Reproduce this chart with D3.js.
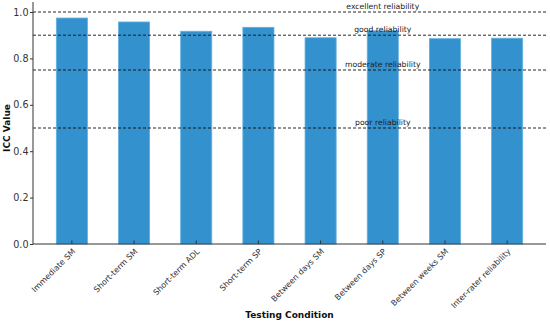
<!DOCTYPE html>
<html>
<head>
<meta charset="utf-8">
<script src="https://cdn.jsdelivr.net/npm/d3@7"></script>
<style>
  body { margin: 0; background: #fff; }
  text { font-family: "DejaVu Sans", sans-serif; }
</style>
</head>
<body>
<svg id="chart"></svg>
<script>
const categories = ["Immediate SM", "Short-term SM", "Short-term ADL", "Short-term SP",
  "Between days SM", "Between days SP", "Between weeks SM", "Inter-rater reliability"];
const iccValues = [0.974, 0.957, 0.917, 0.934, 0.889, 0.919, 0.885, 0.887];
const thresholds = [1.0, 0.9, 0.75, 0.5];
const thresholdLabels = ["excellent reliability", "good reliability", "moderate reliability", "poor reliability"];
const yTicks = [0, 0.2, 0.4, 0.6, 0.8, 1.0];

const W = 550, H = 323;
const margin = { top: 12, right: 4, bottom: 79, left: 33 };
const width = W - margin.left - margin.right;

const svg = d3.select("#chart")
    .attr("width", W)
    .attr("height", H);

const g = svg.append("g");

const x = d3.scaleBand()
    .domain(categories)
    .range([margin.left, W - margin.right])
    .paddingInner(0.5)
    .paddingOuter(0.375);

const y = d3.scaleLinear()
    .domain([0, 1])
    .range([244, 12]);

// bars
g.selectAll("rect.bar")
    .data(categories)
  .enter().append("rect")
    .attr("class", "bar")
    .attr("x", d => x(d))
    .attr("y", (d, i) => y(iccValues[i]))
    .attr("width", x.bandwidth())
    .attr("height", (d, i) => y(0) - y(iccValues[i]))
    .attr("fill", "#3391cd")
    .attr("stroke", "#63b0e0")
    .attr("stroke-width", 0.8);

// threshold lines
g.selectAll("line.thr")
    .data(thresholds)
  .enter().append("line")
    .attr("x1", margin.left)
    .attr("x2", W - margin.right)
    .attr("y1", d => y(d))
    .attr("y2", d => y(d))
    .attr("stroke", "#111")
    .attr("stroke-width", 0.9)
    .attr("stroke-dasharray", "3,2");

const labelX = x(categories[5]) + x.bandwidth() / 2;
g.selectAll("text.thr")
    .data(thresholds)
  .enter().append("text")
    .attr("x", labelX)
    .attr("y", d => y(d + 0.014))
    .attr("text-anchor", "middle")
    .attr("font-size", 7.7)
    .attr("fill", "#222")
    .text((d, i) => thresholdLabels[i]);

// axes
const yAxis = d3.axisLeft(y)
    .tickValues(yTicks)
    .tickFormat(d3.format(".1f"))
    .tickSize(3)
    .tickPadding(1.5);

const xAxis = d3.axisBottom(x)
    .tickSize(-3.5)
    .tickFormat("");

const ya = svg.append("g")
    .attr("transform", `translate(${margin.left},0)`)
    .call(yAxis);
ya.select(".domain").attr("d", `M0,${y(0)}V${y(1) - 10}`);

const xa = svg.append("g")
    .attr("transform", `translate(0,${y(0)})`)
    .call(xAxis);
xa.select(".domain").attr("d", `M${margin.left},0H${W - margin.right}`);

[ya, xa].forEach(a => {
  a.select(".domain").attr("stroke", "#333").attr("stroke-width", 1);
  a.selectAll(".tick line").attr("stroke", "#333");
  a.selectAll(".tick text").attr("font-size", 9.6).attr("fill", "#333")
    .attr("font-family", "DejaVu Sans, sans-serif");
});

// rotated category labels
svg.append("g").selectAll("text")
    .data(categories)
  .enter().append("text")
    .attr("transform", d => `translate(${x(d) + x.bandwidth() / 2 + 2},${y(0) + 6}) rotate(-45)`)
    .attr("text-anchor", "end")
    .attr("dy", "0.35em")
    .attr("font-size", 8)
    .attr("fill", "#333")
    .text(d => d);

// axis titles
svg.append("text")
    .attr("x", margin.left + width / 2)
    .attr("y", 318)
    .attr("text-anchor", "middle")
    .attr("font-size", 9)
    .attr("font-weight", "bold")
    .attr("fill", "#111")
    .text("Testing Condition");

svg.append("text")
    .attr("transform", `translate(10,${(y(0) + y(1)) / 2}) rotate(-90)`)
    .attr("text-anchor", "middle")
    .attr("font-size", 9)
    .attr("font-weight", "bold")
    .attr("fill", "#111")
    .text("ICC Value");
</script>
</body>
</html>
